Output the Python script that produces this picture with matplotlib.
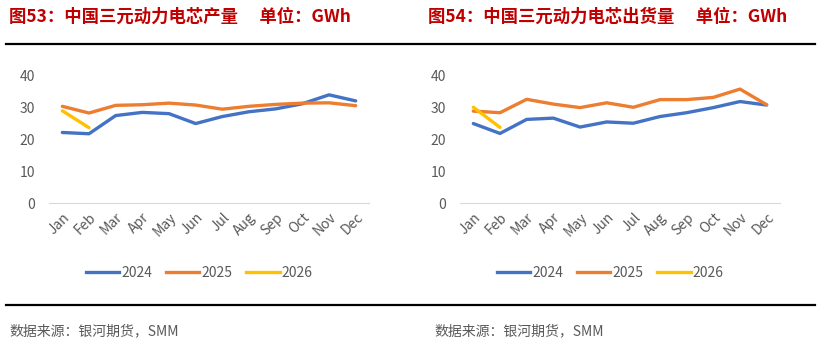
import matplotlib
matplotlib.use("Agg")
import matplotlib.pyplot as plt
from matplotlib.lines import Line2D

plt.rcParams['font.family'] = ['Noto Sans CJK SC', 'DejaVu Sans']

months = ["Jan", "Feb", "Mar", "Apr", "May", "Jun", "Jul", "Aug", "Sep", "Oct", "Nov", "Dec"]
years = ["2024", "2025", "2026"]
colors = ["#4472C4", "#ED7D31", "#FFC000"]

# 图53 production
prod_2024 = [22.2, 21.8, 27.5, 28.5, 28.1, 25.0, 27.2, 28.7, 29.6, 31.2, 34.0, 32.1]
prod_2025 = [30.4, 28.3, 30.7, 30.9, 31.4, 30.8, 29.5, 30.4, 31.0, 31.4, 31.5, 30.6]
prod_2026 = [29.0, 23.7]

# 图54 shipments
ship_2024 = [25.0, 21.9, 26.3, 26.7, 23.9, 25.5, 25.1, 27.2, 28.4, 30.0, 31.9, 30.8]
ship_2025 = [28.9, 28.4, 32.6, 31.1, 30.0, 31.5, 30.1, 32.5, 32.5, 33.2, 35.8, 30.9]
ship_2026 = [30.1, 23.8]

titles = ["图53：中国三元动力电芯产量　 单位：GWh", "图54：中国三元动力电芯出货量　 单位：GWh"]
source = "数据来源：银河期货，SMM"

W, H = 824, 357
fig = plt.figure(figsize=(W / 100, H / 100), dpi=100)


def draw_panel(left, series, title, title_x, src_x):
    # axes in pixel coords -> figure fraction
    x0, x1 = left, left + 320
    y_top, y_bot = 75.7, 203.3
    ax = fig.add_axes([x0 / W, 1 - y_bot / H, (x1 - x0) / W, (y_bot - y_top) / H])
    for vals, c in zip(series, colors):
        ax.plot(months[:len(vals)], vals, color=c, lw=2.4, solid_capstyle="round")
    ax.set_ylim(0, 40)
    ax.set_xlim(-0.5, 11.5)
    ax.set_yticks([0, 10, 20, 30, 40])
    for s in ["top", "right", "left"]:
        ax.spines[s].set_visible(False)
    ax.spines["bottom"].set_color("#D9D9D9")
    ax.spines["bottom"].set_linewidth(0.8)
    ax.tick_params(length=0, colors="#595959", labelsize=10)
    ax.tick_params(axis="y", pad=10)
    ax.tick_params(axis="x", pad=5)
    plt.setp(ax.get_xticklabels(), rotation=45, ha="right", rotation_mode="anchor")
    handles = [Line2D([], [], color=c, lw=2.4) for c in colors]
    ax.legend(handles, years, loc="upper center", bbox_to_anchor=(0.47, -0.39), ncol=3,
              frameon=False, fontsize=10, handlelength=2.4, columnspacing=1.0,
              handletextpad=0.15, labelcolor="#595959")
    fig.text(title_x / W, 1 - 17 / H, title, color="#C00000", fontsize=12.5,
             fontweight="bold", va="center", ha="left")
    fig.text(src_x / W, 1 - 331 / H, source, color="#595959", fontsize=10,
             va="center", ha="left")


draw_panel(49, [prod_2024, prod_2025, prod_2026], titles[0], 9, 9)
draw_panel(460, [ship_2024, ship_2025, ship_2026], titles[1], 428, 434)

# horizontal separators
for y in (44, 305):
    fig.add_artist(Line2D([6 / W, 815 / W], [1 - y / H, 1 - y / H], color="black", lw=1.6))

fig.savefig("out.png", dpi=100)
